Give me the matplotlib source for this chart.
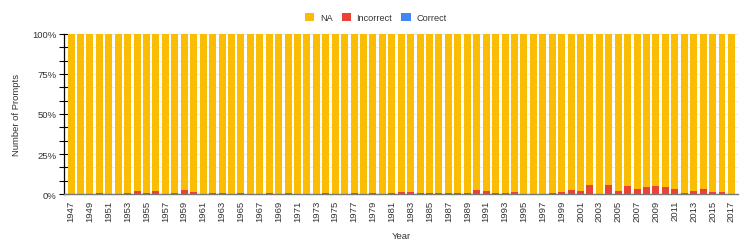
import numpy as np
import matplotlib
matplotlib.use("Agg")
import matplotlib.pyplot as plt
from matplotlib.ticker import FixedLocator, FuncFormatter

plt.rcParams['font.family'] = ['Liberation Sans', 'DejaVu Sans']

# share of prompts per year (%)
years = list(range(1947, 2018))
incorrect = [
    0, 0, 0, 0.5, 0, 0, 0.5, 2.0, 0.8, 2.0,          # 1947-1956
    0, 0.5, 2.5, 1.2, 0, 0.6, 0.6, 0, 0.5, 0,        # 1957-1966
    0, 0.4, 0, 0.5, 0, 0, 0, 0.5, 0, 0,              # 1967-1976
    0.5, 0, 0.5, 0, 0.5, 1.5, 1.5, 0.5, 0.6, 0.6,    # 1977-1986
    0.6, 0.5, 0.5, 2.5, 1.8, 0.8, 0.5, 1.5, 0, 0,    # 1987-1996
    0, 0.5, 1.5, 2.3, 1.9, 5.6, 0, 5.6, 1.9, 5.0,    # 1997-2006
    3.3, 4.2, 4.8, 4.2, 3.1, 0.8, 2.1, 3.1, 1.2, 1.0,  # 2007-2016
    0,                                               # 2017
]
correct = [0] * len(years)
na = [100 - i - c for i, c in zip(incorrect, correct)]

series_names = ['NA', 'Incorrect', 'Correct']
colors = {'NA': '#FBBC04', 'Incorrect': '#EA4335', 'Correct': '#4285F4'}

fig = plt.figure(figsize=(7.47, 2.53), dpi=100)
ax = fig.add_axes([0.0863, 0.229, 0.9017, 0.633])

x = np.arange(len(years))
w = 0.74
ax.bar(x, correct, w, color=colors['Correct'], label='Correct', zorder=3)
ax.bar(x, incorrect, w, bottom=correct, color=colors['Incorrect'], label='Incorrect', zorder=3)
bottom_na = np.array(correct) + np.array(incorrect)
ax.bar(x, na, w, bottom=bottom_na, color=colors['NA'], label='NA', zorder=3)

ax.set_xlim(-0.7, len(years) - 0.3)
ax.set_ylim(0, 100)

ax.yaxis.set_major_locator(FixedLocator([0, 25, 50, 75, 100]))
ax.yaxis.set_minor_locator(FixedLocator(np.arange(0, 101, 100 / 12)))
ax.yaxis.set_major_formatter(FuncFormatter(lambda v, p: f'{int(v)}%'))
ax.tick_params(axis='y', which='both', direction='inout', length=7, width=0.8,
               color='black', labelsize=6.8, pad=2, labelcolor='#333333')
ax.grid(axis='y', which='both', color='#e6e6e6', linewidth=0.6, zorder=0)

ax.set_xticks(x[::2])
ax.set_xticklabels([str(y) for y in years[::2]], rotation=90, fontsize=6.8, color='#333333')
ax.tick_params(axis='x', length=0, pad=4)

for s in ['top', 'right']:
    ax.spines[s].set_visible(False)
ax.spines['left'].set_color('black')
ax.spines['left'].set_linewidth(0.9)
ax.spines['bottom'].set_color('#777777')
ax.spines['bottom'].set_linewidth(1.0)
ax.spines['bottom'].set_zorder(4)

ax.set_ylabel('Number of Prompts', fontsize=6.8, color='#333333', labelpad=8)
ax.set_xlabel('Year', fontsize=6.8, color='#333333', labelpad=7)

handles, labels = ax.get_legend_handles_labels()
order = [labels.index(n) for n in series_names]
fig.legend([handles[i] for i in order], series_names, loc='upper center',
           bbox_to_anchor=(0.503, 0.975), ncol=3, frameon=False, fontsize=6.6,
           handlelength=1.0, handleheight=1.0, columnspacing=1.0, handletextpad=0.6,
           borderaxespad=0.4, labelcolor='#333333')

fig.savefig('out.png', dpi=100)
